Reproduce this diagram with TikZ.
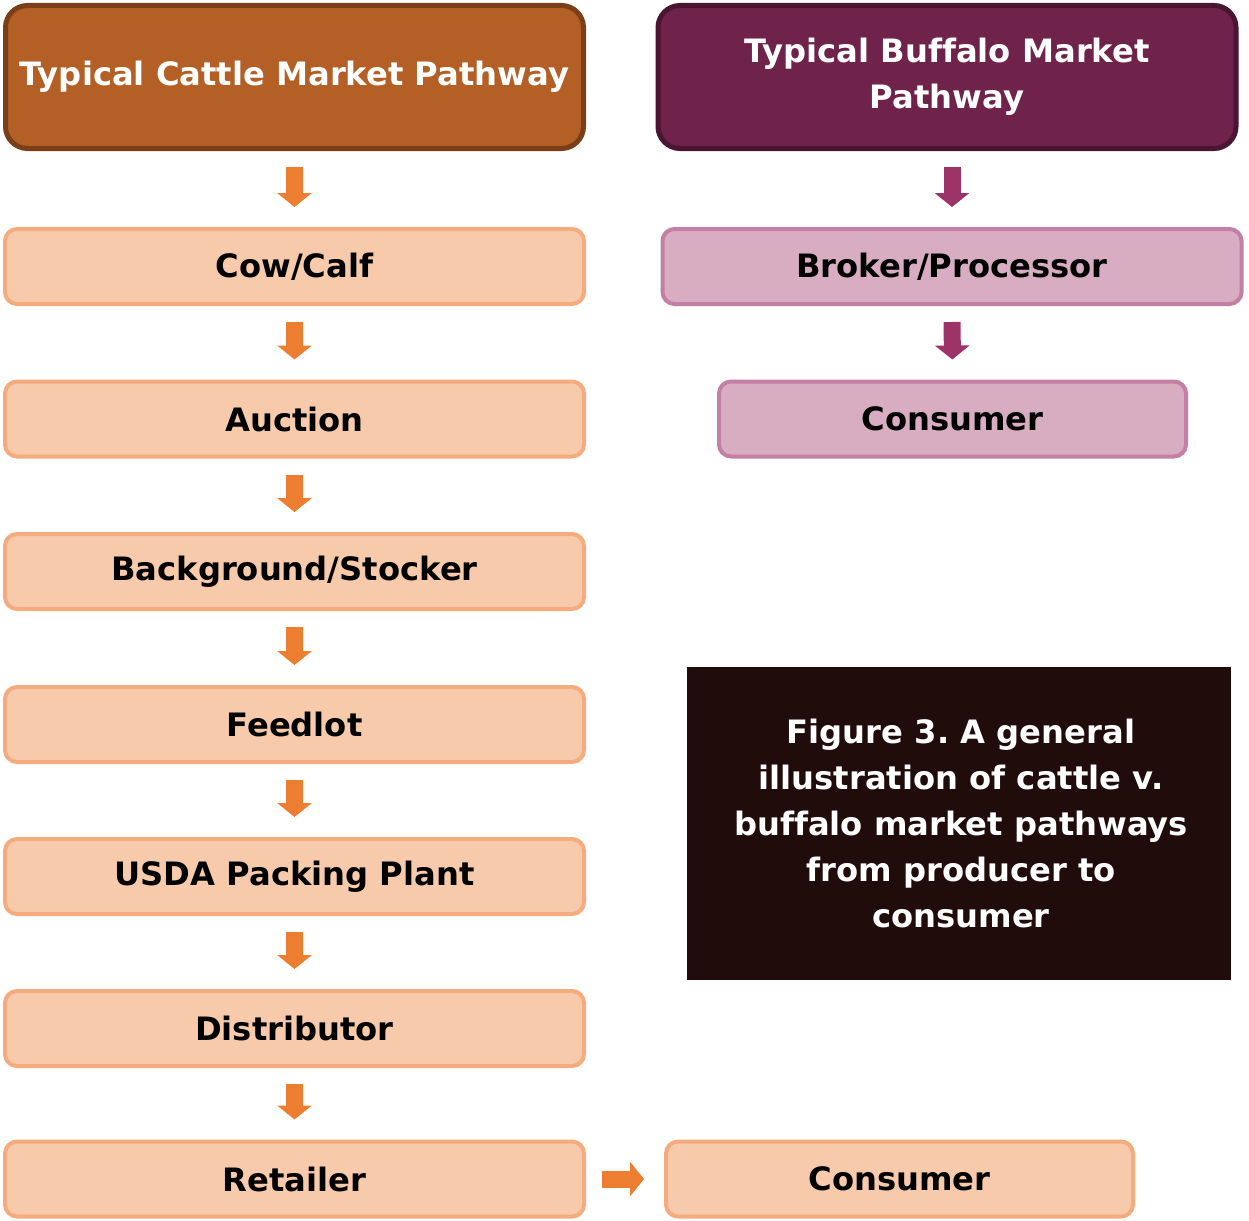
\documentclass[tikz,border=0pt]{standalone}
\usepackage{fontspec}
\setmainfont{DejaVu Sans}[Ligatures=NoCommon]
\usetikzlibrary{arrows.meta}
\frenchspacing
\definecolor{cattlehead}{HTML}{B35F26}
\definecolor{cattleheadline}{HTML}{7A3F18}
\definecolor{cattlefill}{HTML}{F7CAAC}
\definecolor{cattleline}{HTML}{F4AB7D}
\definecolor{cattlearrow}{HTML}{ED7D31}
\definecolor{buffhead}{HTML}{70234A}
\definecolor{buffheadline}{HTML}{4A1530}
\definecolor{bufffill}{HTML}{D8ADC2}
\definecolor{buffline}{HTML}{C47FA4}
\definecolor{buffarrow}{HTML}{9C3468}
\definecolor{notefill}{HTML}{200C0A}
\tikzset{
  txt/.style={font=\fontsize{32.2}{46}\selectfont\bfseries, align=center},
  cattlehdr/.style={txt, draw=cattleheadline, fill=cattlehead, text=white, line width=5pt,
    rounded corners=22pt, minimum width=578pt, minimum height=143pt, inner sep=0pt},
  buffhdr/.style={cattlehdr, draw=buffheadline, fill=buffhead},
  cattlestep/.style={txt, draw=cattleline, fill=cattlefill, text=black, line width=4pt,
    rounded corners=12pt, minimum width=579pt, minimum height=75pt, inner sep=0pt},
  buffstep/.style={cattlestep, draw=buffline, fill=bufffill},
  blockarrow/.style={line width=17pt, -{Triangle[width=34pt,length=14pt]}},
  cattleflow/.style={blockarrow, draw=cattlearrow, shorten <=16pt, shorten >=20pt},
  buffflow/.style={blockarrow, draw=buffarrow, shorten <=16pt, shorten >=20pt},
}
\begin{document}
\begin{tikzpicture}[x=1pt,y=-1pt]
\useasboundingbox (0,0) rectangle (1249,1220);
% cattle column
\node[cattlehdr] (ch) at (294.5,77) {Typical Cattle Market Pathway};
\node[cattlestep] (c1) at (294.5,266.5) {Cow/Calf};
\node[cattlestep] (c2) at (294.5,419) {Auction};
\node[cattlestep] (c3) at (294.5,571.5) {Background/Stocker};
\node[cattlestep] (c4) at (294.5,724.5) {Feedlot};
\node[cattlestep] (c5) at (294.5,876.5) {USDA Packing Plant};
\node[cattlestep] (c6) at (294.5,1028.5) {Distributor};
\node[cattlestep] (c7) at (294.5,1179) {Retailer};
\node[cattlestep, minimum width=467pt] (cc) at (899.5,1179) {Consumer};
% buffalo column
\node[buffhdr] (bh) at (947,77) {Typical Buffalo Market\\Pathway};
\node[buffstep] (b1) at (952,266.5) {Broker/Processor};
\node[buffstep, minimum width=467pt] (b2) at (952.5,419) {Consumer};
% caption box
\node[txt, fill=notefill, text=white, minimum width=544pt, minimum height=313pt, inner sep=0pt]
  (note) at (959,823.5) {\hspace*{4pt}Figure 3. A general\\\hspace*{4pt}illustration of cattle v.\\\hspace*{4pt}buffalo market pathways\\\hspace*{4pt}from producer to\\\hspace*{4pt}consumer};
% cattle flow
\draw[cattleflow] (ch.south -| c1.north) -- (c1.north);
\draw[cattleflow] (c1.south) -- (c2.north);
\draw[cattleflow] (c2.south) -- (c3.north);
\draw[cattleflow] (c3.south) -- (c4.north);
\draw[cattleflow] (c4.south) -- (c5.north);
\draw[cattleflow] (c5.south) -- (c6.north);
\draw[cattleflow] (c6.south) -- (c7.north);
\draw[blockarrow, draw=cattlearrow, shorten <=16pt, shorten >=20pt] (c7.east) -- (cc.west);
% buffalo flow
\draw[buffflow] (bh.south -| b1.north) -- (b1.north);
\draw[buffflow] (b1.south) -- (b2.north);
\end{tikzpicture}
\end{document}
